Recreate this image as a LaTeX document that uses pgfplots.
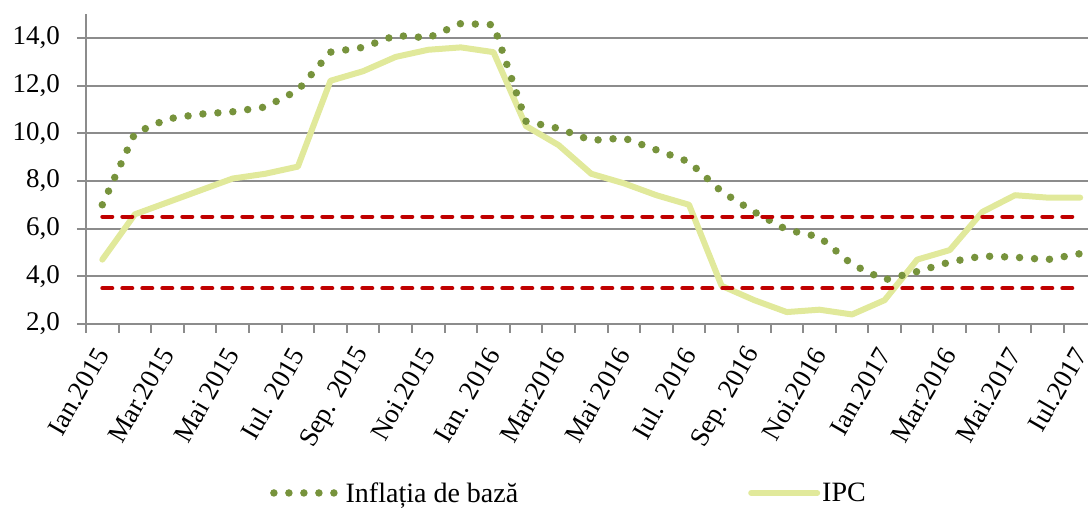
\documentclass[border=0pt]{standalone}
\usepackage{fontspec}
\setmainfont{Liberation Serif}
\usepackage{pgfplots}
\pgfplotsset{compat=1.18}
\definecolor{gridgray}{RGB}{140,140,140}
\definecolor{ipc}{RGB}{225,233,155}
\definecolor{core}{RGB}{119,147,60}
\definecolor{band}{RGB}{192,0,0}
\begin{document}
\begin{tikzpicture}
\begin{axis}[name=ax, scale only axis, width=1002pt, height=310pt,
  xmin=-0.5, xmax=30.24, ymin=2, ymax=15,
  ytick={2,4,...,14}, ymajorgrids,
  major grid style={gridgray, line width=2pt},
  xtick={-0.5,0.5,...,30.5}, xticklabels={},
  extra x ticks={0,2,...,30},
  extra x tick labels={Ian.2015, Mar.2015, Mai 2015, Iul. 2015, Sep. 2015, Noi.2015, Ian. 2016, Mar.2016, Mai 2016, Iul. 2016, Sep. 2016, Noi.2016, Ian.2017, Mar.2016, Mai.2017, Iul.2017},
  extra x tick style={major tick length=0pt},
  axis x line*=bottom, axis y line*=left,
  axis line style={gridgray, line width=2.5pt, -},
  tick align=outside, major tick length=9pt,
  tick style={gridgray, line width=2pt},
  every tick label/.append style={font=\fontsize{27}{31}\selectfont, text=black},
  yticklabel style={anchor=east, inner sep=0pt, /pgf/number format/.cd, fixed, fixed zerofill, precision=1, use comma, assume math mode=true},
  yticklabel shift=17pt,
  xticklabel style={rotate=60, anchor=east, inner sep=0pt},
  xticklabel shift=26pt,
  legend columns=2, reverse legend,
  legend image code/.code={\draw[#1] (0pt,0pt) -- (66pt,0pt);},
  legend style={at={(0.1836,-0.545)}, anchor=west, draw=none, fill=none,
    font=\fontsize{28}{32}\selectfont, inner sep=0pt,
    /tikz/every even column/.append style={column sep=228pt}},
]
\addplot[ipc, line width=6pt, line join=round, line cap=round] coordinates {
(0,4.7) (1,6.6) (2,7.1) (3,7.6) (4,8.1) (5,8.3) (6,8.6) (7,12.2) (8,12.6) (9,13.2)
(10,13.5) (11,13.6) (12,13.4) (13,10.3) (14,9.5) (15,8.3) (16,7.9) (17,7.4) (18,7.0) (19,3.6)
(20,3.0) (21,2.5) (22,2.6) (23,2.4) (24,3.0) (25,4.7) (26,5.1) (27,6.7) (28,7.4) (29,7.3) (30,7.3)};
\addlegendentry{IPC}
\addplot[core, line width=7.5pt, line cap=round, line join=round, dash pattern=on 0pt off 15pt] coordinates {
(0,7.0) (1,10.0) (2,10.6) (3,10.8) (4,10.9) (5,11.1) (6,11.8) (7,13.4) (8,13.6) (9,14.1)
(10,14.0) (11,14.6) (12,14.55) (13,10.5) (14,10.2) (15,9.7) (16,9.8) (17,9.3) (18,8.8) (19,7.55)
(20,6.7) (21,5.95) (22,5.65) (23,4.5) (24,3.85) (25,4.2) (26,4.6) (27,4.85) (28,4.8) (29,4.7) (30,4.95)};
\addlegendentry{Inflația de bază}
\addplot[band, line width=4pt, line cap=round, dash pattern=on 10pt off 10pt, forget plot] coordinates {(0,6.5) (30,6.5)};
\addplot[band, line width=4pt, line cap=round, dash pattern=on 10pt off 10pt, forget plot] coordinates {(0,3.5) (30,3.5)};
\end{axis}
\pgfresetboundingbox
\path (ax.south west) ++(-86pt,-184pt) rectangle ++(1088pt,508pt);
\end{tikzpicture}
\end{document}
